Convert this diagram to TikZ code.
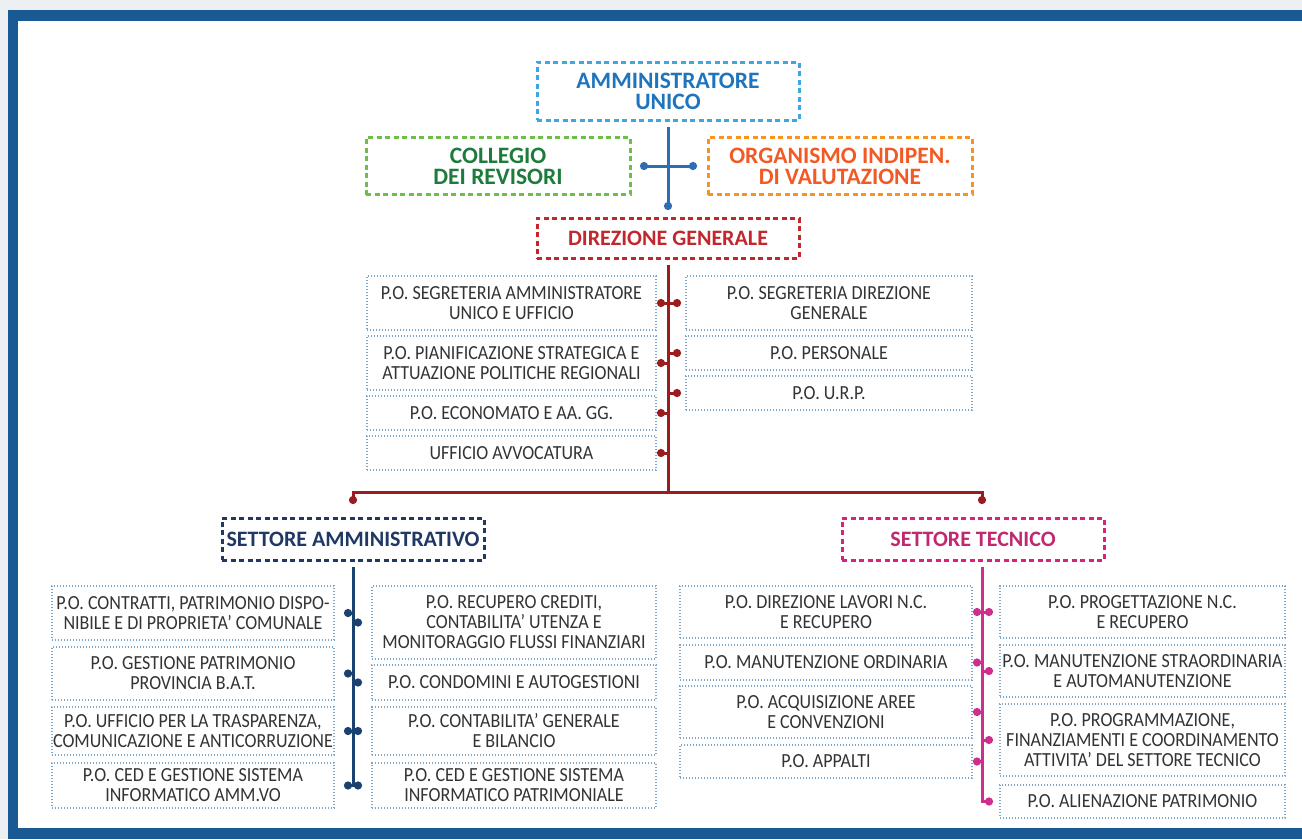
\documentclass[tikz,border=0pt]{standalone}
\usepackage{fontspec}
\setmainfont{Carlito}
\newfontfamily\pofont[FakeStretch=0.9]{Carlito}
\usepackage{xcolor}
\usepackage{tikz}
\usetikzlibrary{arrows.meta,positioning}
\definecolor{bggray}{HTML}{EDF0F3}
\definecolor{frameblue}{HTML}{195A94}
\definecolor{ammsky}{HTML}{3EA6E0}
\definecolor{ammblue}{HTML}{1F75BD}
\definecolor{ammline}{HTML}{2E6DB4}
\definecolor{collgreen}{HTML}{6CC04A}
\definecolor{colltext}{HTML}{1D7B3B}
\definecolor{oivorange}{HTML}{F7941D}
\definecolor{oivtext}{HTML}{F15A24}
\definecolor{dgred}{HTML}{C1272D}
\definecolor{dgline}{HTML}{9B1C1F}
\definecolor{sanavy}{HTML}{1F3864}
\definecolor{saline}{HTML}{1B4171}
\definecolor{stmag}{HTML}{D6247A}
\definecolor{sttext}{HTML}{C2286F}
\definecolor{stline}{HTML}{CF2E8C}
\definecolor{poblue}{HTML}{7EA6C8}
\definecolor{potext}{HTML}{333333}

\begin{document}
\begin{tikzpicture}[
    x=1pt, y=-1pt,
    head/.style={draw, line width=3pt, dash pattern=on 5pt off 3.5pt, align=center, minimum width=262pt, minimum height=42pt, inner sep=0pt, outer sep=0pt, font=\fontsize{22}{21}\selectfont\bfseries},
    bighead/.style={head, font=\fontsize{23.5}{21}\selectfont\bfseries},
    po/.style={draw=poblue, line width=1.4pt, dash pattern=on 1.4pt off 1.6pt, align=center, minimum width=286pt, minimum height=54pt, inner sep=0pt, outer sep=0pt, text=potext, font=\pofont\fontsize{20}{20}\selectfont},
    trunk/.style={line width=3pt},
    stub/.style={line width=3pt, -{Circle[length=8pt]}, shorten >=#1}
  ]
    % frame
    \fill[bggray] (0,0) rectangle (1302,839);
    \fill[frameblue] (8,10) rectangle (1302,839);
    \fill[white] (18,21) rectangle (1302,828);

    % top
    \node[bighead, draw=ammsky, text=ammblue, minimum height=58pt] (amm) at (668,91) {AMMINISTRATORE\\UNICO};
    \node[bighead, draw=collgreen, text=colltext, minimum width=264pt, minimum height=57pt] (coll) at (498,166) {COLLEGIO\\DEI REVISORI};
    \node[bighead, draw=oivorange, text=oivtext, minimum width=264pt, minimum height=57pt] (oiv) at (840,166) {ORGANISMO INDIPEN.\\DI VALUTAZIONE};
    \node[head, draw=dgred, text=dgred, minimum height=40pt] (dg) at (668,238) {DIREZIONE GENERALE};

    % direzione generale
    \node[po, anchor=north, minimum width=289pt] (dgl1) at (511.5,276) {P.O. SEGRETERIA AMMINISTRATORE\\UNICO E UFFICIO};
    \node[po, minimum width=289pt, below=6pt of dgl1] (dgl2) {P.O. PIANIFICAZIONE STRATEGICA E\\ATTUAZIONE POLITICHE REGIONALI};
    \node[po, minimum width=289pt, minimum height=34pt, below=6pt of dgl2] (dgl3) {P.O. ECONOMATO E AA. GG.};
    \node[po, minimum width=289pt, minimum height=34pt, below=6pt of dgl3] (dgl4) {UFFICIO AVVOCATURA};
    \node[po, anchor=north] (dgr1) at (829,276) {P.O. SEGRETERIA DIREZIONE\\GENERALE};
    \node[po, minimum height=34pt, below=6pt of dgr1] (dgr2) {P.O. PERSONALE};
    \node[po, minimum height=34pt, below=6pt of dgr2] (dgr3) {P.O. U.R.P.};

    % settori
    \coordinate (split) at (668,492);
    \node[head, draw=sanavy, text=sanavy] (sa) at (353,539) {SETTORE AMMINISTRATIVO};
    \node[head, draw=stmag, text=sttext] (st) at (973,539) {SETTORE TECNICO};
    \coordinate (sttop) at ([xshift=9pt]st.north);
    \coordinate (stbot) at ([xshift=9pt]st.south);

    % settore amministrativo
    \node[po, anchor=north, minimum width=282pt] (sal1) at (193,586) {P.O. CONTRATTI, PATRIMONIO DISPO-\\NIBILE E DI PROPRIETA’ COMUNALE};
    \node[po, minimum width=282pt, minimum height=53pt, below=7pt of sal1] (sal2) {P.O. GESTIONE PATRIMONIO\\PROVINCIA B.A.T.};
    \node[po, minimum width=282pt, minimum height=48pt, below=7pt of sal2] (sal3) {P.O. UFFICIO PER LA TRASPARENZA,\\COMUNICAZIONE E ANTICORRUZIONE};
    \node[po, minimum width=282pt, minimum height=45pt, below=8pt of sal3] (sal4) {P.O. CED E GESTIONE SISTEMA\\INFORMATICO AMM.VO};
    \node[po, anchor=north, minimum width=284pt, minimum height=73pt] (sar1) at (514,586) {P.O. RECUPERO CREDITI,\\CONTABILITA’ UTENZA E\\MONITORAGGIO FLUSSI FINANZIARI};
    \node[po, minimum width=284pt, minimum height=35pt, below=6pt of sar1] (sar2) {P.O. CONDOMINI E AUTOGESTIONI};
    \node[po, minimum width=284pt, minimum height=48pt, below=7pt of sar2] (sar3) {P.O. CONTABILITA’ GENERALE\\E BILANCIO};
    \node[po, minimum width=284pt, minimum height=45pt, below=8pt of sar3] (sar4) {P.O. CED E GESTIONE SISTEMA\\INFORMATICO PATRIMONIALE};

    % settore tecnico
    \node[po, anchor=north, minimum width=292pt, minimum height=52pt] (stl1) at (826,586) {P.O. DIREZIONE LAVORI N.C.\\E RECUPERO};
    \node[po, minimum width=292pt, minimum height=35pt, below=7pt of stl1] (stl2) {P.O. MANUTENZIONE ORDINARIA};
    \node[po, minimum width=292pt, minimum height=52pt, below=6pt of stl2] (stl3) {P.O. ACQUISIZIONE AREE\\E CONVENZIONI};
    \node[po, minimum width=292pt, minimum height=33pt, below=7pt of stl3] (stl4) {P.O. APPALTI};
    \node[po, anchor=north, minimum width=285pt, minimum height=52pt] (str1) at (1142.5,586) {P.O. PROGETTAZIONE N.C.\\E RECUPERO};
    \node[po, minimum width=285pt, minimum height=52pt, below=7pt of str1] (str2) {P.O. MANUTENZIONE STRAORDINARIA\\E AUTOMANUTENZIONE};
    \node[po, minimum width=285pt, minimum height=72pt, below=7pt of str2] (str3) {P.O. PROGRAMMAZIONE,\\FINANZIAMENTI E COORDINAMENTO\\ATTIVITA’ DEL SETTORE TECNICO};
    \node[po, minimum width=285pt, minimum height=33pt, below=9pt of str3] (str4) {P.O. ALIENAZIONE PATRIMONIO};

    % connectors
    \draw[ammline, trunk, -{Circle[length=8pt]}, shorten <=7pt, shorten >=8pt] (amm) -- (dg);
    \draw[ammline, trunk, {Circle[length=8pt]}-{Circle[length=8pt]}, shorten <=10pt, shorten >=11pt] (coll) -- (oiv);

    \draw[dgline, trunk, shorten <=7pt] (dg) -- (split);
    \foreach \n in {dgl1,dgl2,dgl3,dgl4}
      \draw[dgline, stub=1pt] (dg |- \n) -- (\n);
    \foreach \n in {dgr1,dgr2,dgr3}
      \draw[dgline, stub=5pt] (dg |- \n) -- (\n);
    \draw[dgline, trunk, -{Circle[length=8pt]}, shorten >=14pt] (split) -| (sa);
    \draw[dgline, trunk, -{Circle[length=8pt]}, shorten >=14pt] (split) -| (sttop);

    \draw[saline, trunk, shorten <=7pt] (sa) -- (sa |- sal4);
    \foreach \n in {sal1,sal2,sal3,sal4}
      \draw[saline, stub=10pt] (sa |- \n) -- (\n);
    \foreach \n in {sar1,sar2,sar3,sar4}
      \draw[saline, stub=10pt] (sa |- \n) -- (\n);

    \draw[stline, trunk, shorten <=7pt] (stbot) -- (stbot |- str3);
    \foreach \n in {stl1,stl2,stl3,stl4}
      \draw[stline, stub=1pt] (stbot |- \n) -- (\n);
    \foreach \n in {str1,str2,str3}
      \draw[stline, stub=7pt] (stbot |- \n) -- (\n);
    \draw[stline, stub=7pt] (stbot |- str3) -- (stbot |- str4) -- (str4);
  \end{tikzpicture}
\end{document}
